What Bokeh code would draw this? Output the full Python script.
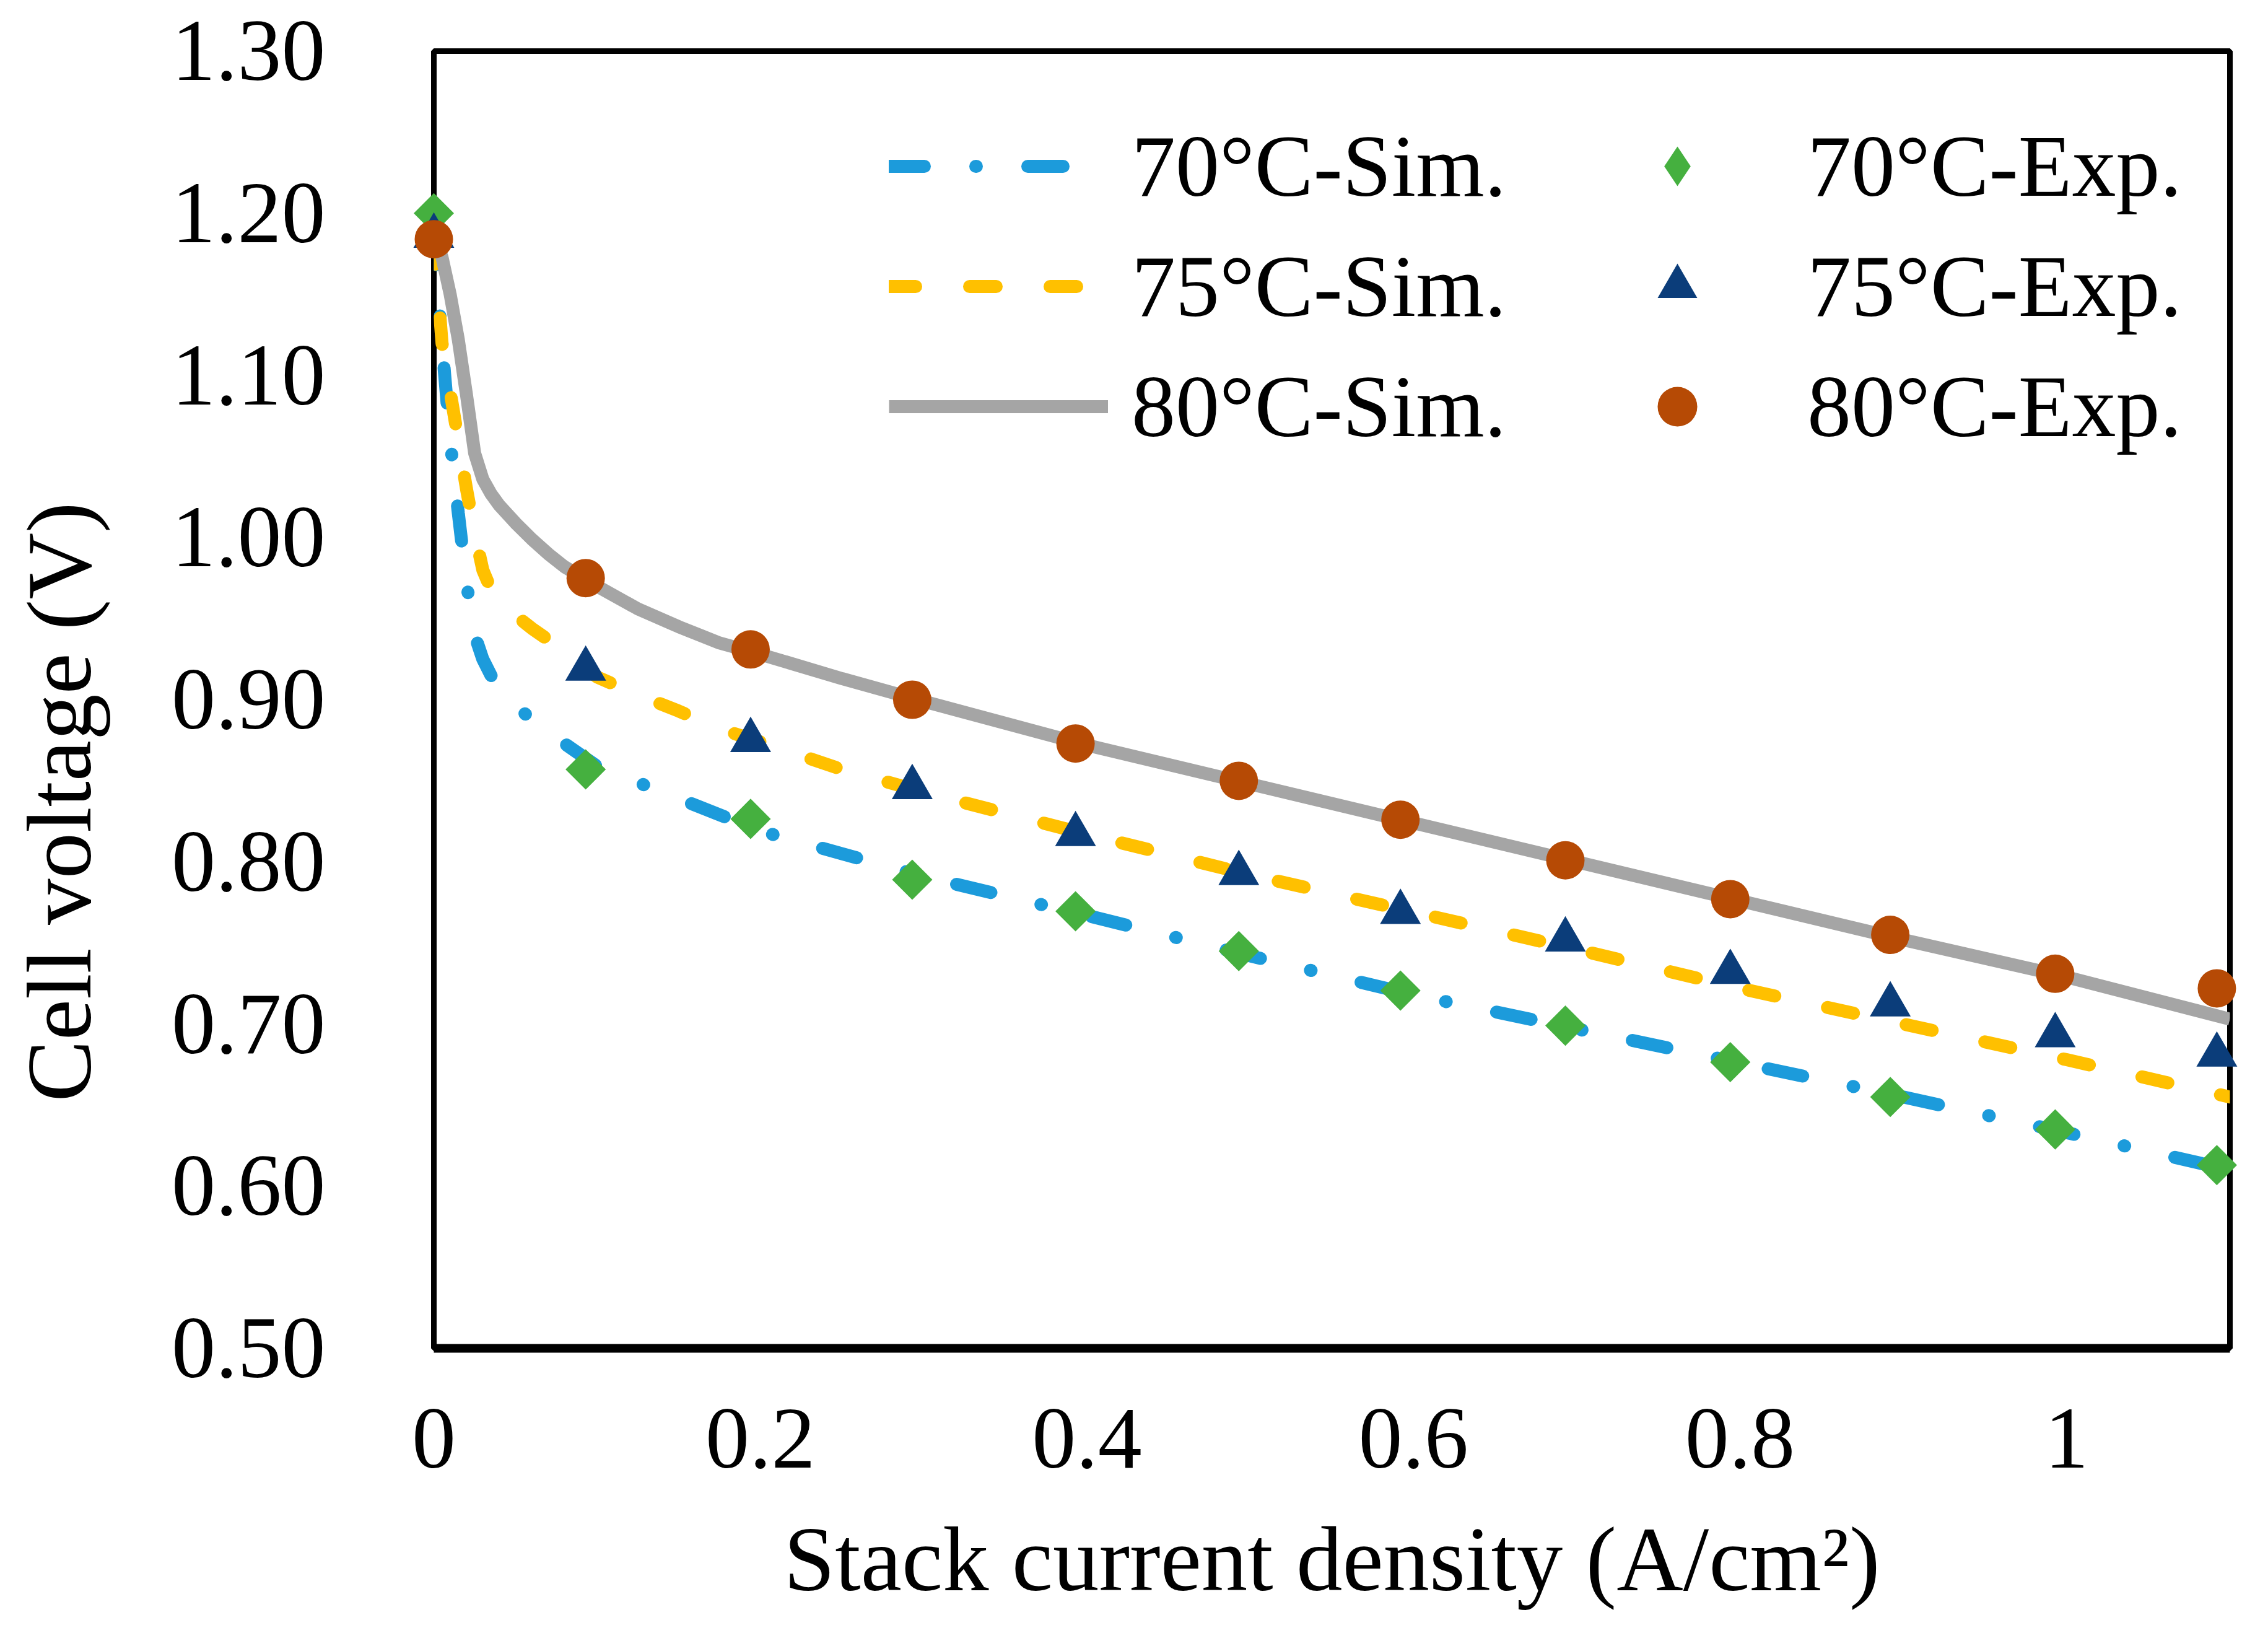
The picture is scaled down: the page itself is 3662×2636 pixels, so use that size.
import math
from bokeh.plotting import figure
from bokeh.models import Range1d, FixedTicker, Legend, LegendItem, Label
from bokeh.embed import file_html
from bokeh.resources import INLINE

# Curvas de polarização: simulação (linhas) e experimento (marcadores)

x_sim = [0, 0.005, 0.01, 0.015, 0.02, 0.025, 0.03, 0.035, 0.04, 0.05, 0.06, 0.07, 0.08,
         0.1, 0.125, 0.15, 0.175, 0.2, 0.25, 0.3, 0.4, 0.5, 0.6, 0.7, 0.8, 0.9, 1.0, 1.1]
v70_sim = [1.19, 1.12, 1.06, 1.015, 0.972, 0.94, 0.925, 0.915, 0.907, 0.896, 0.888, 0.88, 0.873,
           0.859, 0.849, 0.839, 0.829, 0.819, 0.805, 0.791, 0.767, 0.742, 0.718, 0.697,
           0.676, 0.655, 0.633, 0.61]
v75_sim = [1.185, 1.12, 1.09, 1.06, 1.03, 1.003, 0.98, 0.968, 0.962, 0.952, 0.944, 0.937, 0.929,
           0.914, 0.903, 0.893, 0.882, 0.874, 0.857, 0.843, 0.817, 0.792, 0.769, 0.746,
           0.722, 0.70, 0.678, 0.655]
v80_sim = [1.185, 1.173, 1.15, 1.122, 1.088, 1.052, 1.036, 1.027, 1.02, 1.009, 0.999, 0.99, 0.982,
           0.97, 0.956, 0.945, 0.935, 0.928, 0.913, 0.899, 0.872, 0.848, 0.824, 0.80,
           0.776, 0.752, 0.729, 0.703]

# pontos experimentais
x_exp = [0, 0.093, 0.194, 0.293, 0.393, 0.493, 0.592, 0.693, 0.794, 0.892, 0.993, 1.092]
v70_exp = [1.20, 0.857, 0.8265, 0.789, 0.7695, 0.745, 0.7206, 0.699, 0.6765, 0.655, 0.635, 0.613]
v75_exp = [1.186, 0.919, 0.875, 0.846, 0.817, 0.793, 0.769, 0.752, 0.732, 0.712, 0.693, 0.681]
v80_exp = [1.184, 0.975, 0.931, 0.90, 0.873, 0.85, 0.826, 0.801, 0.777, 0.755, 0.731, 0.722]

# eixos
x_ticks = [0, 0.2, 0.4, 0.6, 0.8, 1]
x_tick_labels = ["0", "0.2", "0.4", "0.6", "0.8", "1"]
y_ticks = [0.5, 0.6, 0.7, 0.8, 0.9, 1.0, 1.1, 1.2, 1.3]
y_tick_labels = ["0.50", "0.60", "0.70", "0.80", "0.90", "1.00", "1.10", "1.20", "1.30"]

FONT = "Liberation Serif"
FSIZE = "142px"
TSIZE = "149px"   # titulos dos eixos um pouco maiores

p = figure(width=3646, height=2620,
           x_range=Range1d(0, 1.1), y_range=Range1d(0.5, 1.3),
           output_backend="svg", toolbar_location=None,
           min_border_left=700, min_border_right=46,
           min_border_top=82, min_border_bottom=444)
p.grid.visible = False
p.outline_line_color = "black"
p.outline_line_width = 9
p.outline_line_alpha = 1

# linhas simuladas
l70 = p.line(x_sim, v70_sim, line_color="#1C9BDB", line_width=21,
             line_dash="57 83 1 83", line_cap="round")
l75 = p.line(x_sim, v75_sim, line_color="#FFC000", line_width=21,
             line_dash="43 87", line_cap="round")
l80 = p.line(x_sim, v80_sim, line_color="#A5A5A5", line_width=21)

# marcadores (nivel overlay para nao serem cortados na borda)
s70 = p.scatter(x_exp, v70_exp, marker="square", size=46, angle=math.pi / 4,
                fill_color="#45B03F", line_color=None, level="overlay")
s75 = p.scatter(x_exp, v75_exp, marker="triangle", size=66,
                fill_color="#0B3D7A", line_color=None, level="overlay")
s80 = p.scatter(x_exp, v80_exp, marker="circle", size=62,
                fill_color="#B64A05", line_color=None, level="overlay")
# losango so para a legenda (a legenda ignora o angulo do quadrado)
s70_leg = p.scatter(x_exp, v70_exp, marker="diamond", size=60,
                    fill_color="#45B03F", line_color=None, visible=False)

# eixo x
p.xaxis.ticker = FixedTicker(ticks=x_ticks)
p.xaxis.major_label_overrides = dict(zip(x_ticks, x_tick_labels))
p.xaxis.major_label_text_font = FONT
p.xaxis.major_label_text_font_size = FSIZE
p.xaxis.major_label_text_color = "black"
p.xaxis.major_label_standoff = 93
p.xaxis.major_tick_line_color = None
p.xaxis.minor_tick_line_color = None
p.xaxis.axis_line_color = "black"
p.xaxis.axis_line_width = 14
p.xaxis.axis_label = "Stack current density (A/cm²)"
p.xaxis.axis_label_text_font = FONT
p.xaxis.axis_label_text_font_size = TSIZE
p.xaxis.axis_label_text_font_style = "normal"
p.xaxis.axis_label_text_color = "black"
p.xaxis.axis_label_standoff = 62

# eixo y
p.yaxis.ticker = FixedTicker(ticks=y_ticks)
p.yaxis.major_label_overrides = dict(zip(y_ticks, y_tick_labels))
p.yaxis.major_label_text_font = FONT
p.yaxis.major_label_text_font_size = FSIZE
p.yaxis.major_label_text_color = "black"
p.yaxis.major_label_standoff = 169
p.yaxis.major_tick_line_color = None
p.yaxis.minor_tick_line_color = None
p.yaxis.axis_line_color = None

# titulo do eixo y (um pouco abaixo do centro, como no original);
# fica num painel lateral para nao ser cortado pelo frame
ylabel = Label(x=-0.2295, y=0.837, x_units="data", y_units="data",
               text="Cell voltage (V)", angle=math.pi / 2,
               text_align="center", text_baseline="middle",
               text_font=FONT, text_font_size=TSIZE, text_color="black")
p.add_layout(ylabel, "left")

# legendas em duas colunas
common = dict(orientation="vertical", glyph_height=160, label_height=160, spacing=30,
              padding=0, margin=0, border_line_color=None, background_fill_alpha=0,
              label_text_font=FONT, label_text_font_size=FSIZE, label_text_color="black",
              click_policy="none")

leg1 = Legend(items=[LegendItem(label="70°C-Sim.", renderers=[l70]),
                     LegendItem(label="75°C-Sim.", renderers=[l75]),
                     LegendItem(label="80°C-Sim.", renderers=[l80])],
              location=(735, 1438), glyph_width=354, label_standoff=38, **common)
leg2 = Legend(items=[LegendItem(label="70°C-Exp.", renderers=[s70_leg]),
                     LegendItem(label="75°C-Exp.", renderers=[s75]),
                     LegendItem(label="80°C-Exp.", renderers=[s80])],
              location=(1928, 1438), glyph_width=160, label_standoff=130, **common)
p.add_layout(leg1)
p.add_layout(leg2)

open("out.html", "w", encoding="utf-8").write(file_html(p, INLINE))
